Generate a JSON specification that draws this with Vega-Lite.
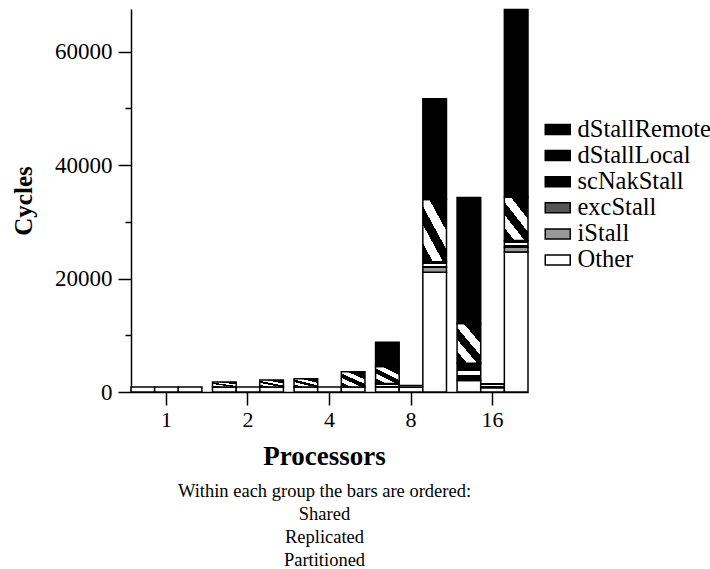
{
  "$schema": "https://vega.github.io/schema/vega-lite/v6.json",
  "width": 397,
  "height": 383,
  "autosize": "none",
  "padding": {"left": 131, "top": 9, "right": 182, "bottom": 177},
  "background": "white",
  "config": {
    "view": {"stroke": null},
    "font": "Liberation Serif",
    "axis": {
      "labelFont": "Liberation Serif",
      "titleFont": "Liberation Serif",
      "labelColor": "black",
      "titleColor": "black",
      "domainColor": "black",
      "tickColor": "black",
      "domainWidth": 1.5,
      "tickWidth": 1.5,
      "grid": false
    }
  },
  "title": {
    "text": ["Within each group the bars are ordered:", "Shared", "Replicated", "Partitioned"],
    "orient": "bottom",
    "anchor": "middle",
    "font": "Liberation Serif",
    "fontSize": 18.5,
    "fontWeight": "normal",
    "lineHeight": 23,
    "color": "black",
    "offset": 13,
    "dx": -5
  },
  "data": {
    "values": [
      {"procs": "1", "config": "Shared", "component": "Other", "cycles": 900},
      {"procs": "1", "config": "Replicated", "component": "Other", "cycles": 900},
      {"procs": "1", "config": "Partitioned", "component": "Other", "cycles": 900},
      {"procs": "2", "config": "Shared", "component": "Other", "cycles": 900},
      {"procs": "2", "config": "Shared", "component": "dStallLocal", "cycles": 850},
      {"procs": "2", "config": "Replicated", "component": "Other", "cycles": 900},
      {"procs": "2", "config": "Partitioned", "component": "Other", "cycles": 900},
      {"procs": "2", "config": "Partitioned", "component": "dStallLocal", "cycles": 1200},
      {"procs": "4", "config": "Shared", "component": "Other", "cycles": 900},
      {"procs": "4", "config": "Shared", "component": "dStallLocal", "cycles": 1450},
      {"procs": "4", "config": "Replicated", "component": "Other", "cycles": 900},
      {"procs": "4", "config": "Partitioned", "component": "Other", "cycles": 900},
      {"procs": "4", "config": "Partitioned", "component": "dStallLocal", "cycles": 2650},
      {"procs": "8", "config": "Shared", "component": "Other", "cycles": 900},
      {"procs": "8", "config": "Shared", "component": "scNakStall", "cycles": 600},
      {"procs": "8", "config": "Shared", "component": "dStallLocal", "cycles": 3000},
      {"procs": "8", "config": "Shared", "component": "dStallRemote", "cycles": 4260},
      {"procs": "8", "config": "Replicated", "component": "Other", "cycles": 850},
      {"procs": "8", "config": "Replicated", "component": "scNakStall", "cycles": 300},
      {"procs": "8", "config": "Partitioned", "component": "Other", "cycles": 21100},
      {"procs": "8", "config": "Partitioned", "component": "iStall", "cycles": 900},
      {"procs": "8", "config": "Partitioned", "component": "scNakStall", "cycles": 970},
      {"procs": "8", "config": "Partitioned", "component": "dStallLocal", "cycles": 10950},
      {"procs": "8", "config": "Partitioned", "component": "dStallRemote", "cycles": 17780},
      {"procs": "16", "config": "Shared", "component": "Other", "cycles": 2020},
      {"procs": "16", "config": "Shared", "component": "scNakStall", "cycles": 3030},
      {"procs": "16", "config": "Shared", "component": "dStallLocal", "cycles": 7040},
      {"procs": "16", "config": "Shared", "component": "dStallRemote", "cycles": 22180},
      {"procs": "16", "config": "Replicated", "component": "Other", "cycles": 750},
      {"procs": "16", "config": "Replicated", "component": "excStall", "cycles": 100},
      {"procs": "16", "config": "Replicated", "component": "scNakStall", "cycles": 600},
      {"procs": "16", "config": "Partitioned", "component": "Other", "cycles": 24680},
      {"procs": "16", "config": "Partitioned", "component": "iStall", "cycles": 850},
      {"procs": "16", "config": "Partitioned", "component": "scNakStall", "cycles": 1180},
      {"procs": "16", "config": "Partitioned", "component": "dStallLocal", "cycles": 7620},
      {"procs": "16", "config": "Partitioned", "component": "dStallRemote", "cycles": 33070}
    ]
  },
  "transform": [
    {"calculate": "indexof(['Other','iStall','excStall','scNakStall','dStallLocal','dStallRemote'], datum.component)", "as": "stackorder"}
  ],
  "mark": {"type": "bar", "stroke": "black", "strokeWidth": 1.5},
  "encoding": {
    "x": {
      "field": "procs",
      "type": "nominal",
      "sort": ["1", "2", "4", "8", "16"],
      "scale": {"paddingInner": 0.13, "paddingOuter": 0},
      "axis": {
        "title": "Processors",
        "titleFontSize": 27,
        "titleFontWeight": "bold",
        "titlePadding": 13,
        "titleX": 193,
        "labelAngle": 0,
        "labelFontSize": 22,
        "tickSize": 13,
        "labelPadding": 4
      }
    },
    "xOffset": {
      "field": "config",
      "type": "nominal",
      "sort": ["Shared", "Replicated", "Partitioned"],
      "scale": {"paddingInner": 0, "paddingOuter": 0}
    },
    "y": {
      "field": "cycles",
      "type": "quantitative",
      "stack": "zero",
      "scale": {"domain": [0, 67500], "nice": false},
      "axis": {
        "title": "Cycles",
        "titleFontSize": 25,
        "titleFontWeight": "bold",
        "titlePadding": 18,
        "values": [0, 10000, 20000, 30000, 40000, 50000, 60000],
        "format": "d",
        "labelExpr": "datum.value % 20000 === 0 ? datum.label : ''",
        "labelFontSize": 23,
        "labelPadding": 6,
        "tickSize": {"condition": {"test": "datum.value % 20000 === 0", "value": 13}, "value": 6}
      }
    },
    "color": {
      "field": "component",
      "type": "nominal",
      "scale": {
        "domain": ["dStallRemote", "dStallLocal", "scNakStall", "excStall", "iStall", "Other"],
        "range": ["black", "black", "black", "#555555", "#999999", "white"]
      },
      "condition": [
        {"test": "datum.component === 'dStallLocal'", "value": {"gradient": "linear", "x1": 0, "y1": 1, "x2": 0.7, "y2": 0, "stops": [
          {"offset": 0, "color": "black"}, {"offset": 0.2, "color": "black"},
          {"offset": 0.2, "color": "white"}, {"offset": 0.4, "color": "white"},
          {"offset": 0.4, "color": "black"}, {"offset": 0.6, "color": "black"},
          {"offset": 0.6, "color": "white"}, {"offset": 0.8, "color": "white"},
          {"offset": 0.8, "color": "black"}, {"offset": 1, "color": "black"}
        ]}},
        {"test": "datum.component === 'scNakStall'", "value": {"gradient": "linear", "x1": 0, "y1": 0, "x2": 0, "y2": 1, "stops": [
          {"offset": 0, "color": "black"}, {"offset": 0.45, "color": "black"},
          {"offset": 0.45, "color": "white"}, {"offset": 0.7, "color": "white"},
          {"offset": 0.7, "color": "black"}, {"offset": 1, "color": "black"}
        ]}}
      ],
      "legend": {
        "title": null,
        "orient": "none",
        "legendX": 414.5,
        "legendY": 108.25,
        "padding": 0,
        "symbolType": "M-1.25,-0.5H1.25V0.5H-1.25Z",
        "symbolSize": 400,
        "symbolStrokeColor": "black",
        "symbolStrokeWidth": 1.5,
        "symbolOpacity": 1,
        "labelFont": "Liberation Serif",
        "labelFontSize": 24.5,
        "labelColor": "black",
        "labelOffset": 7.5,
        "rowPadding": 1.1
      }
    },
    "order": {"field": "stackorder", "type": "quantitative"}
  }
}
